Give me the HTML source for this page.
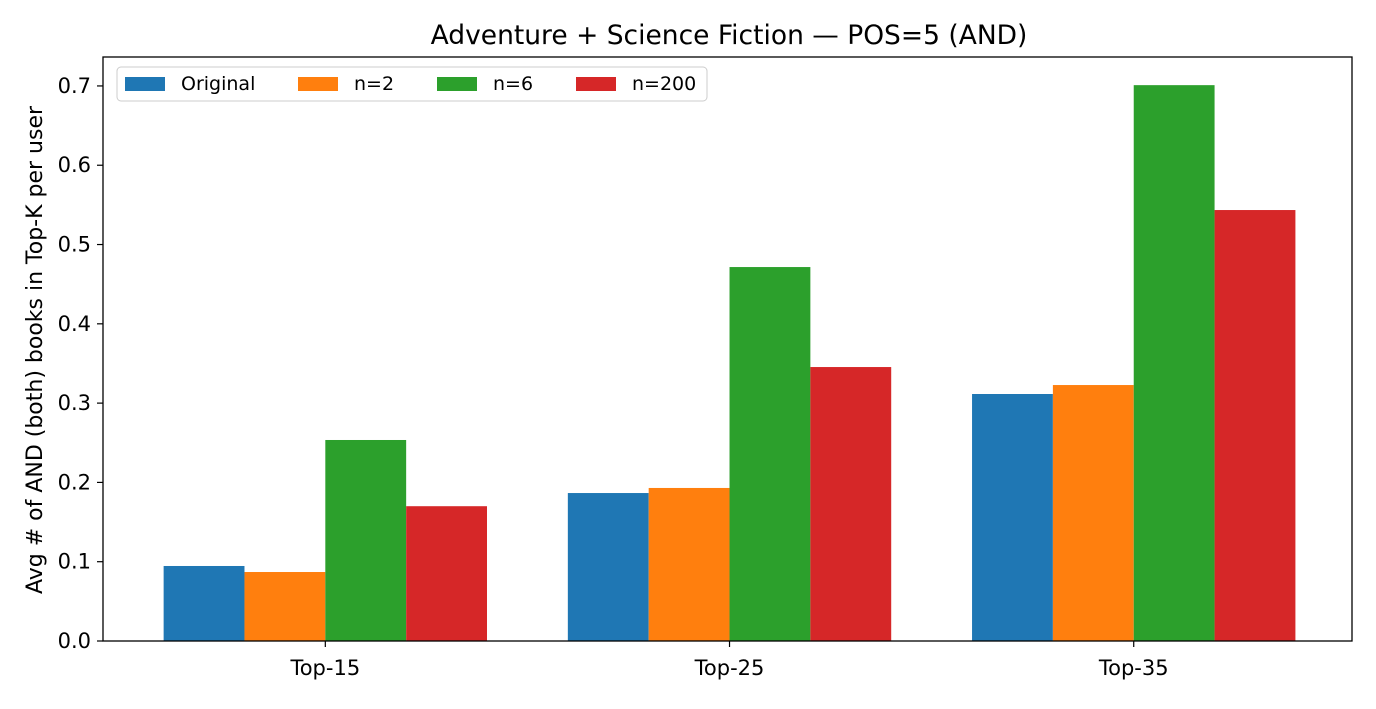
<!DOCTYPE html>
<html><head><meta charset="utf-8"><style>
html,body{margin:0;padding:0;background:#fff;}
svg text{font-family:"DejaVu Sans","Liberation Sans",sans-serif;}
</style></head><body>
<svg id="chart" width="1376" height="704" xmlns="http://www.w3.org/2000/svg">
<rect width="1376" height="704" fill="#fff"/>
<text x="729" y="44" font-size="26.5" text-anchor="middle" fill="#000">Adventure + Science Fiction — POS=5 (AND)</text>
<text transform="translate(42,350) rotate(-90)" font-size="22" text-anchor="middle" fill="#000">Avg # of AND (both) books in Top-K per user</text>
<g id="bars"></g>
<g id="yticks"></g>
<g id="xticks"></g>
<rect x="103" y="57" width="1249" height="584" fill="none" stroke="#000" stroke-width="1.3"/>
<g id="legend"></g>
</svg>
<script>
const categories=["Top-15","Top-25","Top-35"];
const seriesNames=["Original","n=2","n=6","n=200"];
const seriesColors=["#1f77b4","#ff7f0e","#2ca02c","#d62728"];
const original=[0.0946,0.1866,0.3115];
const n2=[0.087,0.193,0.3228];
const n6=[0.2535,0.4716,0.701];
const n200=[0.170,0.3455,0.5435];
const yTicks=[0,0.1,0.2,0.3,0.4,0.5,0.6,0.7];
const yTickLabels=["0.0","0.1","0.2","0.3","0.4","0.5","0.6","0.7"];

const series=[original,n2,n6,n200];
const L=103,R=1352,T=57,B=641;
const xMin=-0.55,xMax=2.54,yMax=0.7365;
const xs=v=>L+(v-xMin)/(xMax-xMin)*(R-L);
const ys=v=>B-v/yMax*(B-T);
const NS="http://www.w3.org/2000/svg";
function mk(tag,attrs,parent){const e=document.createElementNS(NS,tag);for(const k in attrs)e.setAttribute(k,attrs[k]);parent.appendChild(e);return e;}
const bw=0.2;
const gb=document.getElementById('bars');
series.forEach((s,si)=>{s.forEach((v,ci)=>{
 const x0=xs(ci-0.4+si*bw),x1=xs(ci-0.4+(si+1)*bw);
 const r=mk('rect',{x:x0,y:ys(v),width:x1-x0,height:ys(0)-ys(v),fill:seriesColors[si]},gb);
 
 
});});
const gy=document.getElementById('yticks');
yTicks.forEach((t,i)=>{
 const y=ys(t);
 const l=mk('line',{x1:L-6,x2:L,y1:y,y2:y,stroke:'#000','stroke-width':1.2},gy);
 
 
 const tx=mk('text',{x:L-12,y:y+7,'font-size':21,'text-anchor':'end',fill:'#000'},gy);
 tx.textContent=yTickLabels[i];
 
 
});
const gx=document.getElementById('xticks');
categories.forEach((c,i)=>{
 const x=xs(i);
 const l=mk('line',{x1:x,x2:x,y1:B,y2:B+6,stroke:'#000','stroke-width':1.2},gx);
 
 
 const tx=mk('text',{x:x,y:B+34,'font-size':21,'text-anchor':'middle',fill:'#000'},gx);
 tx.textContent=c;
 
 
});
const lg=document.getElementById('legend');
mk('rect',{x:117,y:67,width:590,height:34,rx:4,fill:'#fff','fill-opacity':0.8,stroke:'#ccc'},lg);
const lx=[125,298,437,576];
seriesNames.forEach((n,i)=>{
 const r=mk('rect',{x:lx[i],y:77,width:40,height:14,fill:seriesColors[i]},lg);
 
 
 const t=mk('text',{x:lx[i]+56,y:90,'font-size':19,fill:'#000'},lg);
 t.textContent=n;
 
 
});
</script>
</body></html>
